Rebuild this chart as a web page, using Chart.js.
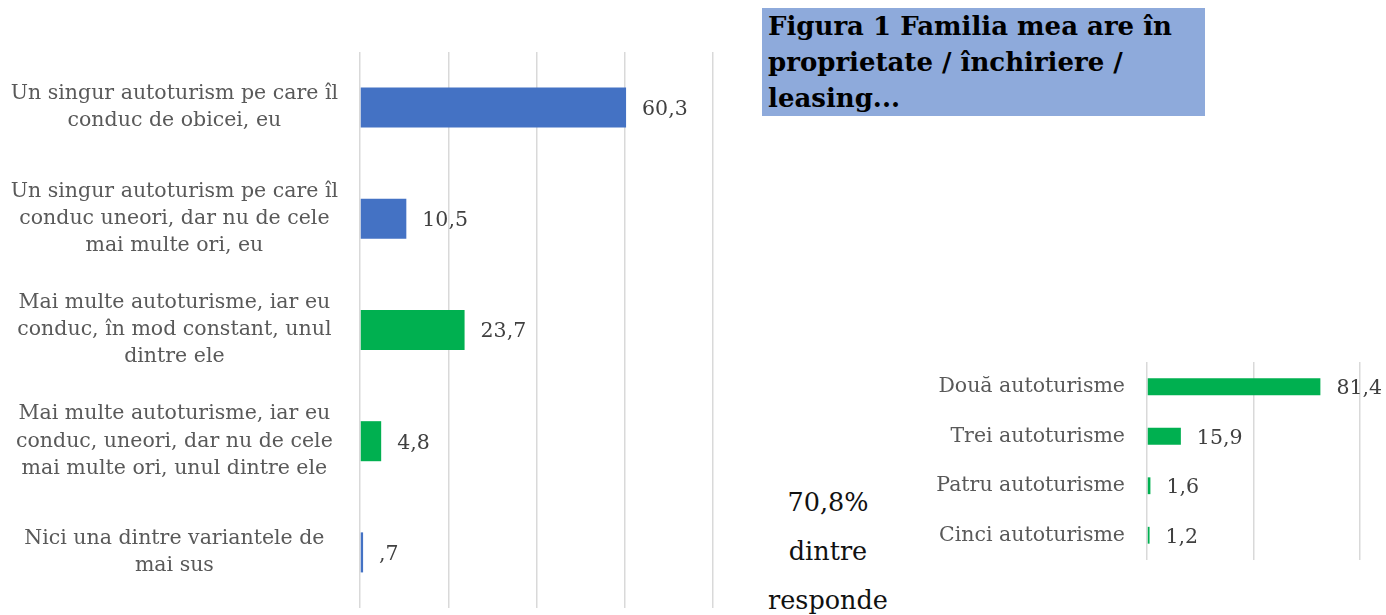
<!DOCTYPE html>
<html>
<head>
<meta charset="utf-8">
<script src="https://cdn.jsdelivr.net/npm/chart.js@4/dist/chart.umd.min.js"></script>
<style>
  body { margin: 0; width: 1386px; height: 615px; overflow: hidden; background: #fff; position: relative; }
  #left { position: absolute; left: 0; top: 0; }
  #right { position: absolute; left: 900px; top: 340px; }
  #title {
    position: absolute; left: 762px; top: 8px; width: 437px; height: 108px; padding-left: 6px;
    background: #8eaadb; color: #000; font: bold 26px "DejaVu Serif", serif; line-height: 36px;
  }
  #note {
    position: absolute; left: 758px; top: 478px; width: 140px; text-align: center;
    font: 25.5px "DejaVu Serif", serif; line-height: 49px; color: #111;
  }
</style>
</head>
<body>
<canvas id="left" width="740" height="615"></canvas>
<canvas id="right" width="486" height="230"></canvas>
<div id="title">Figura 1 Familia mea are în proprietate / închiriere / leasing...</div>
<div id="note">70,8%<br>dintre<br>responde</div>
<script>
// left chart: ce autoturism conduce respondentul
const leftLabels = [
    ["Un singur autoturism pe care îl", "conduc de obicei, eu"],
    ["Un singur autoturism pe care îl", "conduc uneori, dar nu de cele", "mai multe ori, eu"],
    ["Mai multe autoturisme, iar eu", "conduc, în mod constant, unul", "dintre ele"],
    ["Mai multe autoturisme, iar eu", "conduc, uneori, dar nu de cele", "mai multe ori, unul dintre ele"],
    ["Nici una dintre variantele de", "mai sus"]
];
const leftValues = [60.3, 10.5, 23.7, 4.8, 0.7];
const leftColors = ["#4472c4", "#4472c4", "#00b050", "#00b050", "#4472c4"];

// right chart: cate autoturisme are familia
const rightLabels = ["Două autoturisme", "Trei autoturisme", "Patru autoturisme", "Cinci autoturisme"];
const rightValues = [81.4, 15.9, 1.6, 1.2];

const FONT = "DejaVu Serif";

function fmt(v) {
    // excel style: 0,7 shown as ,7
    return String(v).replace(".", ",").replace(/^0/, "");
}

const valueLabels = {
    id: "valueLabels",
    afterDatasetsDraw(chart) {
        const ctx = chart.ctx;
        const meta = chart.getDatasetMeta(0);
        ctx.save();
        ctx.font = "20.5px " + FONT;
        ctx.fillStyle = "#404040";
        ctx.textAlign = "left";
        ctx.textBaseline = "middle";
        meta.data.forEach((bar, i) => {
            ctx.fillText(fmt(chart.data.datasets[0].data[i]), bar.x + 16, bar.y + 2);
        });
        ctx.restore();
    }
};

function fitY(w) {
    return (s) => { s.width = w; s.paddingTop = 0; s.paddingBottom = 0; };
}
function fitX(s) {
    s.height = 0; s.paddingLeft = 0; s.paddingRight = 0;
}

new Chart(document.getElementById("left"), {
    type: "bar",
    data: {
        labels: leftLabels,
        datasets: [{
            data: leftValues,
            backgroundColor: leftColors,
            categoryPercentage: 1,
            barPercentage: 0.36
        }]
    },
    options: {
        indexAxis: "y",
        responsive: false,
        animation: false,
        layout: { padding: { top: 52, bottom: 7, right: 27, left: 0 } },
        plugins: { legend: { display: false }, tooltip: { enabled: false } },
        scales: {
            x: {
                min: 0, max: 80,
                afterFit: fitX,
                ticks: { display: false, stepSize: 20 },
                grid: { color: "#d9d9d9", lineWidth: 1.5, drawTicks: false },
                border: { display: false }
            },
            y: {
                afterFit: fitY(360),
                grid: { display: false },
                border: { display: false },
                ticks: { crossAlign: "center", padding: 14, color: "#595959", font: { family: FONT, size: 20.5, lineHeight: 1.32 } }
            }
        }
    },
    plugins: [valueLabels]
});

new Chart(document.getElementById("right"), {
    type: "bar",
    data: {
        labels: rightLabels,
        datasets: [{
            data: rightValues,
            backgroundColor: "#00b050",
            categoryPercentage: 1,
            barPercentage: 0.34
        }]
    },
    options: {
        indexAxis: "y",
        responsive: false,
        animation: false,
        layout: { padding: { top: 22, bottom: 10, right: 26, left: 0 } },
        plugins: { legend: { display: false }, tooltip: { enabled: false } },
        scales: {
            x: {
                min: 0, max: 100,
                afterFit: fitX,
                ticks: { display: false, stepSize: 50 },
                grid: { color: "#d9d9d9", lineWidth: 1.5, drawTicks: false },
                border: { display: false }
            },
            y: {
                afterFit: fitY(247),
                grid: { display: false },
                border: { display: false },
                ticks: { crossAlign: "near", padding: 14, color: "#595959", font: { family: FONT, size: 20.5 } }
            }
        }
    },
    plugins: [valueLabels]
});
</script>
</body>
</html>
